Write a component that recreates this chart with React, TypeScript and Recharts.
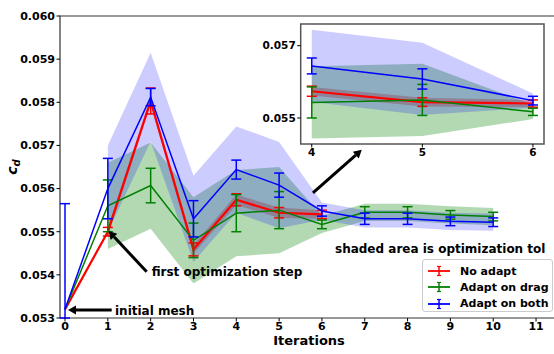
import { ComposedChart, Line, Area, ErrorBar, XAxis, YAxis, ReferenceLine, ReferenceArea, CartesianGrid } from 'recharts'

// drag coefficient per optimization iteration, three adaptation strategies
const iterations = [0, 1, 2, 3, 4, 5, 6, 7, 8, 9, 10]

const noAdapt = [0.0532, 0.055, 0.05803, 0.05459, 0.05574, 0.05544, 0.0554]
const noAdaptErr = [0, 0.0001, 0.0003, 0.00015, 0.00014, 0.00012, 0.0001]
const noAdaptTol = [0, 0.0001, 0.0001, 0.0001, 0.00012, 0.00012, 0.0001]

const adaptDrag = [0.0532, 0.0556, 0.05607, 0.0548, 0.05543, 0.0555, 0.05517, 0.05545, 0.05545, 0.05539, 0.05535]
const adaptDragErr = [0, 0.0006, 0.0004, 0.0004, 0.00043, 0.00043, 0.0001, 0.00013, 0.00013, 0.0001, 0.0001]
const adaptDragTol = [0, 0.001, 0.001, 0.001, 0.001, 0.001, 0.0002, 0.0002, 0.0002, 0.0002, 0.0002]

const adaptBoth = [0.0532, 0.056, 0.05812, 0.0553, 0.05644, 0.05608, 0.05548, 0.0553, 0.0553, 0.05524, 0.05522]
const adaptBothErr = [[0.0002, 0.00245], 0.0007, 0.0002, 0.00042, 0.00022, 0.00028, 0.00012, 0.00013, 0.00013, 0.0001, 0.0001]
const adaptBothTol = [0, 0.001, 0.00103, 0.001, 0.001, 0.001, 0.0002, 0.0002, 0.0002, 0.0002, 0.0002]

const xTicks = [0, 1, 2, 3, 4, 5, 6, 7, 8, 9, 10, 11]
const yTicks = [0.053, 0.054, 0.055, 0.056, 0.057, 0.058, 0.059, 0.06]
const insetXTicks = [4, 5, 6]
const insetYTicks = [0.055, 0.057]

const X_DOMAIN = [-0.117, 11.513]
const Y_DOMAIN = [0.053, 0.06]
const INSET_X_DOMAIN = [3.9, 6.1]
const INSET_Y_DOMAIN = [0.05428, 0.0576]

const series = [
  { name: 'No adapt', color: '#ff0000', values: noAdapt, err: noAdaptErr, tol: noAdaptTol, bandOpacity: 0.3, width: 2.2 },
  { name: 'Adapt on drag', color: '#008000', values: adaptDrag, err: adaptDragErr, tol: adaptDragTol, bandOpacity: 0.3, width: 1.5 },
  { name: 'Adapt on both', color: '#0000ff', values: adaptBoth, err: adaptBothErr, tol: adaptBothTol, bandOpacity: 0.2, width: 1.5 },
]

const annotations = [
  { text: 'initial mesh', tail: [1.09, 0.053185], tip: [0.07, 0.053185], dx: 3.3, dy: 5 },
  { text: 'first optimization step', tail: [1.907, 0.054073], tip: [1.016, 0.055017], dx: 5, dy: 3.8 },
  { text: '', tail: [5.79, 0.0559], tip: [6.93, 0.0569], dx: 0, dy: 0 },
]

const rowsFor = (s: typeof series[number]) =>
  s.values.map((v, i) => ({
    it: iterations[i],
    v,
    err: s.err[i],
    band: [v - s.tol[i], v + s.tol[i]],
  }))

const seriesRows = series.map(rowsFor)
const insetRows = seriesRows.map((rows) => rows.filter((r) => r.it >= 4 && r.it <= 6))

const font = { fontFamily: 'DejaVu Sans', fontWeight: 'bold' as const }

// black filled arrow from tail to tip, with optional text next to the tail
const arrowShape = (text: string, dx: number, dy: number) => (p: any) => {
  const { x1, y1, x2, y2 } = p
  const ang = Math.atan2(y2 - y1, x2 - x1)
  const headLen = 8
  const headHalf = 4.5
  const bx = x2 - headLen * Math.cos(ang)
  const by = y2 - headLen * Math.sin(ang)
  const nx = -Math.sin(ang)
  const ny = Math.cos(ang)
  const head = `${x2},${y2} ${bx + nx * headHalf},${by + ny * headHalf} ${bx - nx * headHalf},${by - ny * headHalf}`
  return (
    <g>
      <line x1={x1} y1={y1} x2={bx} y2={by} stroke="#000" strokeWidth={3} />
      <polygon points={head} fill="#000" />
      {text && (
        <text x={x1 + dx} y={y1 + dy} fontSize={12} fill="#000" style={font}>
          {text}
        </text>
      )}
    </g>
  )
}

function ErrIcon({ color }: { color: string }) {
  return (
    <svg width={26} height={12} style={{ display: 'block' }}>
      <line x1={2} y1={6} x2={24} y2={6} stroke={color} strokeWidth={1.8} />
      <line x1={13} y1={1.5} x2={13} y2={10.5} stroke={color} strokeWidth={1.5} />
      <line x1={11} y1={1.5} x2={15} y2={1.5} stroke={color} strokeWidth={1.2} />
      <line x1={11} y1={10.5} x2={15} y2={10.5} stroke={color} strokeWidth={1.2} />
    </svg>
  )
}

export default function App() {
  const tickStyle = { fill: '#000', fontSize: 11, ...font }

  return (
    <div style={{ position: 'absolute', left: 0, top: 0, width: 554, height: 354, overflow: 'hidden', background: '#fff', ...font }}>
      <div style={{ position: 'absolute', left: 0, top: 0 }}>
        <ComposedChart width={560} height={354} margin={{ top: 16, right: 2, bottom: 0, left: 0 }}>
          <XAxis
            dataKey="it"
            type="number"
            domain={X_DOMAIN}
            ticks={xTicks}
            allowDataOverflow
            height={36}
            axisLine={false}
            tickSize={3.5}
            tickMargin={1}
            tickLine={{ stroke: '#000' }}
            tick={tickStyle}
            label={{
              content: (props: any) => {
                const vb = props.viewBox
                return (
                  <text x={vb.x + vb.width / 2} y={vb.y + 26.5} textAnchor="middle" fontSize={13} fill="#000" style={font}>
                    Iterations
                  </text>
                )
              },
            }}
          />
          <YAxis
            type="number"
            domain={Y_DOMAIN}
            ticks={yTicks}
            allowDataOverflow
            width={60}
            axisLine={false}
            tickSize={3.5}
            tickMargin={1.5}
            tickLine={{ stroke: '#000' }}
            tick={tickStyle}
            tickFormatter={(v: number) => v.toFixed(3)}
            label={{
              content: (props: any) => {
                const vb = props.viewBox
                const cy = vb.y + vb.height / 2
                return (
                  <text x={16.5} y={cy} transform={`rotate(-90 16.5 ${cy})`} textAnchor="middle" fill="#000" style={font}>
                    <tspan fontSize={14} fontStyle="italic">c</tspan>
                    <tspan fontSize={10} fontStyle="italic" dy={3}>d</tspan>
                  </text>
                )
              },
            }}
          />
          {series.map((s, i) => (
            <Area
              key={`band-${s.name}`}
              data={seriesRows[i].slice(1)}
              dataKey="band"
              type="linear"
              stroke="none"
              fill={s.color}
              fillOpacity={s.bandOpacity}
              dot={false}
              activeDot={false}
              legendType="none"
              isAnimationActive={false}
            />
          ))}
          {series.map((s, i) => (
            <Line
              key={`line-${s.name}`}
              data={seriesRows[i]}
              dataKey="v"
              name={s.name}
              type="linear"
              stroke={s.color}
              strokeWidth={s.width}
              dot={false}
              activeDot={false}
              isAnimationActive={false}
            >
              <ErrorBar dataKey="err" direction="y" width={5} stroke={s.color} strokeWidth={1.5} />
            </Line>
          ))}
          <ReferenceArea
            x1={X_DOMAIN[0]}
            x2={X_DOMAIN[1]}
            y1={Y_DOMAIN[0]}
            y2={Y_DOMAIN[1]}
            fill="none"
            stroke="#333"
            strokeWidth={1.2}
            ifOverflow="visible"
          />
          {annotations.map((a, i) => (
            <ReferenceLine
              key={`arrow-${i}`}
              segment={[
                { x: a.tail[0], y: a.tail[1] },
                { x: a.tip[0], y: a.tip[1] },
              ]}
              ifOverflow="visible"
              shape={arrowShape(a.text, a.dx, a.dy)}
            />
          ))}
        </ComposedChart>
      </div>

      {/* zoomed view of iterations 4-6 */}
      <div style={{ position: 'absolute', left: 250, top: 0 }}>
        <ComposedChart width={304} height={170} margin={{ top: 24, right: 10, bottom: 0, left: 10.7 }}>
          <CartesianGrid fill="#fff" fillOpacity={1} horizontal={false} vertical={false} />
          <XAxis
            dataKey="it"
            type="number"
            domain={INSET_X_DOMAIN}
            ticks={insetXTicks}
            allowDataOverflow
            height={26}
            axisLine={false}
            tickSize={3.5}
            tickMargin={1}
            tickLine={{ stroke: '#000' }}
            tick={{ ...tickStyle, fontSize: 10.5 }}
          />
          <YAxis
            type="number"
            domain={INSET_Y_DOMAIN}
            ticks={insetYTicks}
            allowDataOverflow
            width={40}
            axisLine={false}
            tickSize={3.5}
            tickMargin={1.5}
            tickLine={{ stroke: '#000' }}
            tick={{ ...tickStyle, fontSize: 10.5 }}
            tickFormatter={(v: number) => v.toFixed(3)}
          />
          {series.map((s, i) => (
            <Area
              key={`iband-${s.name}`}
              data={insetRows[i]}
              dataKey="band"
              type="linear"
              stroke="none"
              fill={s.color}
              fillOpacity={s.bandOpacity}
              dot={false}
              activeDot={false}
              legendType="none"
              isAnimationActive={false}
            />
          ))}
          {series.map((s, i) => (
            <Line
              key={`iline-${s.name}`}
              data={insetRows[i]}
              dataKey="v"
              type="linear"
              stroke={s.color}
              strokeWidth={s.width}
              dot={false}
              activeDot={false}
              isAnimationActive={false}
            >
              <ErrorBar dataKey="err" direction="y" width={5} stroke={s.color} strokeWidth={1.5} />
            </Line>
          ))}
          <ReferenceArea
            x1={INSET_X_DOMAIN[0]}
            x2={INSET_X_DOMAIN[1]}
            y1={INSET_Y_DOMAIN[0]}
            y2={INSET_Y_DOMAIN[1]}
            fill="none"
            stroke="#555"
            strokeWidth={1.5}
            ifOverflow="visible"
          />
        </ComposedChart>
      </div>

      <div style={{ position: 'absolute', left: 335, top: 242.5, fontSize: 12, lineHeight: '12px', whiteSpace: 'nowrap', color: '#000' }}>
        shaded area is optimization tol
      </div>

      <div
        style={{
          position: 'absolute',
          left: 422,
          top: 259,
          width: 131,
          height: 53,
          boxSizing: 'border-box',
          border: '1px solid #ccc',
          borderRadius: 3,
          background: 'rgba(255,255,255,0.8)',
          padding: '3px 0 0 3px',
          fontSize: 11,
          color: '#000',
        }}
      >
        {series.map((s) => (
          <div key={s.name} style={{ display: 'flex', alignItems: 'center', height: 16.3 }}>
            <ErrIcon color={s.color} />
            <span style={{ marginLeft: 8, whiteSpace: 'nowrap' }}>{s.name}</span>
          </div>
        ))}
      </div>
    </div>
  )
}
